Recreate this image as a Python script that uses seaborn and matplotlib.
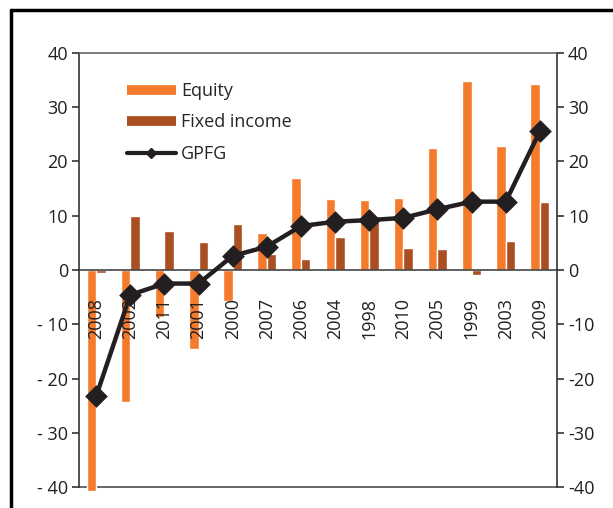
import pandas as pd
import matplotlib.pyplot as plt
import seaborn as sns
from matplotlib.lines import Line2D

# Annual returns (percent), sorted by GPFG return
years = ['2008', '2002', '2011', '2001', '2000', '2007', '2006',
         '2004', '1998', '2010', '2005', '1999', '2003', '2009']
equity = [-40.7, -24.4, -8.6, -14.6, -5.8, 6.8, 17.0,
          13.0, 12.9, 13.3, 22.5, 34.8, 22.8, 34.3]
fixed_income = [-0.5, 9.9, 7.1, 5.1, 8.4, 2.9, 2.0,
                6.1, 9.0, 4.1, 3.9, -1.0, 5.3, 12.5]
gpfg = [-23.3, -4.6, -2.5, -2.5, 2.6, 4.3, 8.1,
        8.9, 9.2, 9.6, 11.2, 12.6, 12.6, 25.6]

left_ticks = [40, 30, 20, 10, 0, -10, -20, -30, -40]
left_labels = ['40', '30', '20', '10', '0', '- 10', '- 20', '- 30', '- 40']
right_labels = ['40', '30', '20', '10', '0', '-10', '-20', '-30', '-40']

orange = '#F47B2B'
brown = '#A94F22'
dark = '#231F20'

bars = pd.DataFrame({
    'year': years * 2,
    'series': ['Equity'] * len(years) + ['Fixed income'] * len(years),
    'value': equity + fixed_income,
})
line = pd.DataFrame({'year': years, 'GPFG': gpfg})

sns.set_style('white')
plt.rcParams['font.family'] = ['Open Sans', 'DejaVu Sans']
plt.rcParams['font.size'] = 13

fig = plt.figure(figsize=(6.13, 5.08), dpi=100)
ax = fig.add_axes([0.1289, 0.0413, 0.7797, 0.8544])

sns.barplot(data=bars, x='year', y='value', hue='series', order=years,
            hue_order=['Equity', 'Fixed income'], palette=[orange, brown],
            width=0.56, saturation=1, legend=False, ax=ax)
for p in ax.patches:
    p.set_clip_on(False)
    p.set_zorder(1)

sns.pointplot(data=line, x='year', y='GPFG', order=years, color=dark,
              markers='D', markersize=9.5, linewidth=3.2, errorbar=None, ax=ax)
for l in ax.lines:
    l.set_zorder(3)

ax.set_ylim(-40, 40)
ax.set_xlim(-0.5, len(years) - 0.5)
ax.set_xlabel('')
ax.set_ylabel('')

# axis styling: zero line carries the category labels (drawn over the bars)
ax.set_axisbelow(False)
ax.xaxis.set_zorder(2)
ax.spines['bottom'].set_position(('data', 0))
ax.spines['bottom'].set_color('#444444')
ax.spines['bottom'].set_zorder(2)
ax.spines['top'].set_color('#666666')
ax.spines['left'].set_color('#333333')
ax.spines['right'].set_color('#333333')
for s in ax.spines.values():
    s.set_linewidth(1.2)
ax.axhline(-40, color='#666666', lw=1.4, clip_on=False, zorder=0.5)

ax.set_xticks(range(len(years)))
ax.set_xticklabels(years, rotation=90, va='top')
ax.set_xticks([i + 0.5 for i in range(len(years) - 1)], minor=True)
ax.tick_params(axis='x', which='major', length=0, pad=20, labelsize=13, colors='#231F20')
ax.tick_params(axis='x', which='minor', length=5, direction='inout', color='#444444', width=1.2)

ax.set_yticks(left_ticks)
ax.set_yticklabels(left_labels)
ax.tick_params(axis='y', left=True, length=5, width=1.2, color='#333333', labelsize=13,
               labelcolor='#231F20', pad=3)

ax2 = ax.twinx()
ax2.set_ylim(-40, 40)
ax2.set_yticks(left_ticks)
ax2.set_yticklabels(right_labels)
ax2.tick_params(axis='y', right=True, length=5, width=1.2, color='#333333', labelsize=13,
                labelcolor='#231F20', pad=3)
for s in ax2.spines.values():
    s.set_visible(False)

handles = [
    Line2D([], [], color=orange, lw=7, solid_capstyle='butt'),
    Line2D([], [], color=brown, lw=7, solid_capstyle='butt'),
    Line2D([], [], color=dark, lw=3, marker='D', markersize=5),
]
ax.legend(handles, ['Equity', 'Fixed income', 'GPFG'], loc='upper left',
          bbox_to_anchor=(0.085, 0.95), frameon=False, fontsize=13,
          handlelength=2.7, handletextpad=0.3, labelspacing=0.75, borderaxespad=0)

# outer frame lines
fig.add_artist(Line2D([11 / 613, 11 / 613], [0, 1 - 10 / 508], color='black', lw=2.5,
                      transform=fig.transFigure))
fig.add_artist(Line2D([11 / 613, 1], [1 - 10 / 508, 1 - 10 / 508], color='black', lw=2.5,
                      transform=fig.transFigure))

fig.savefig('out.png', dpi=100)
